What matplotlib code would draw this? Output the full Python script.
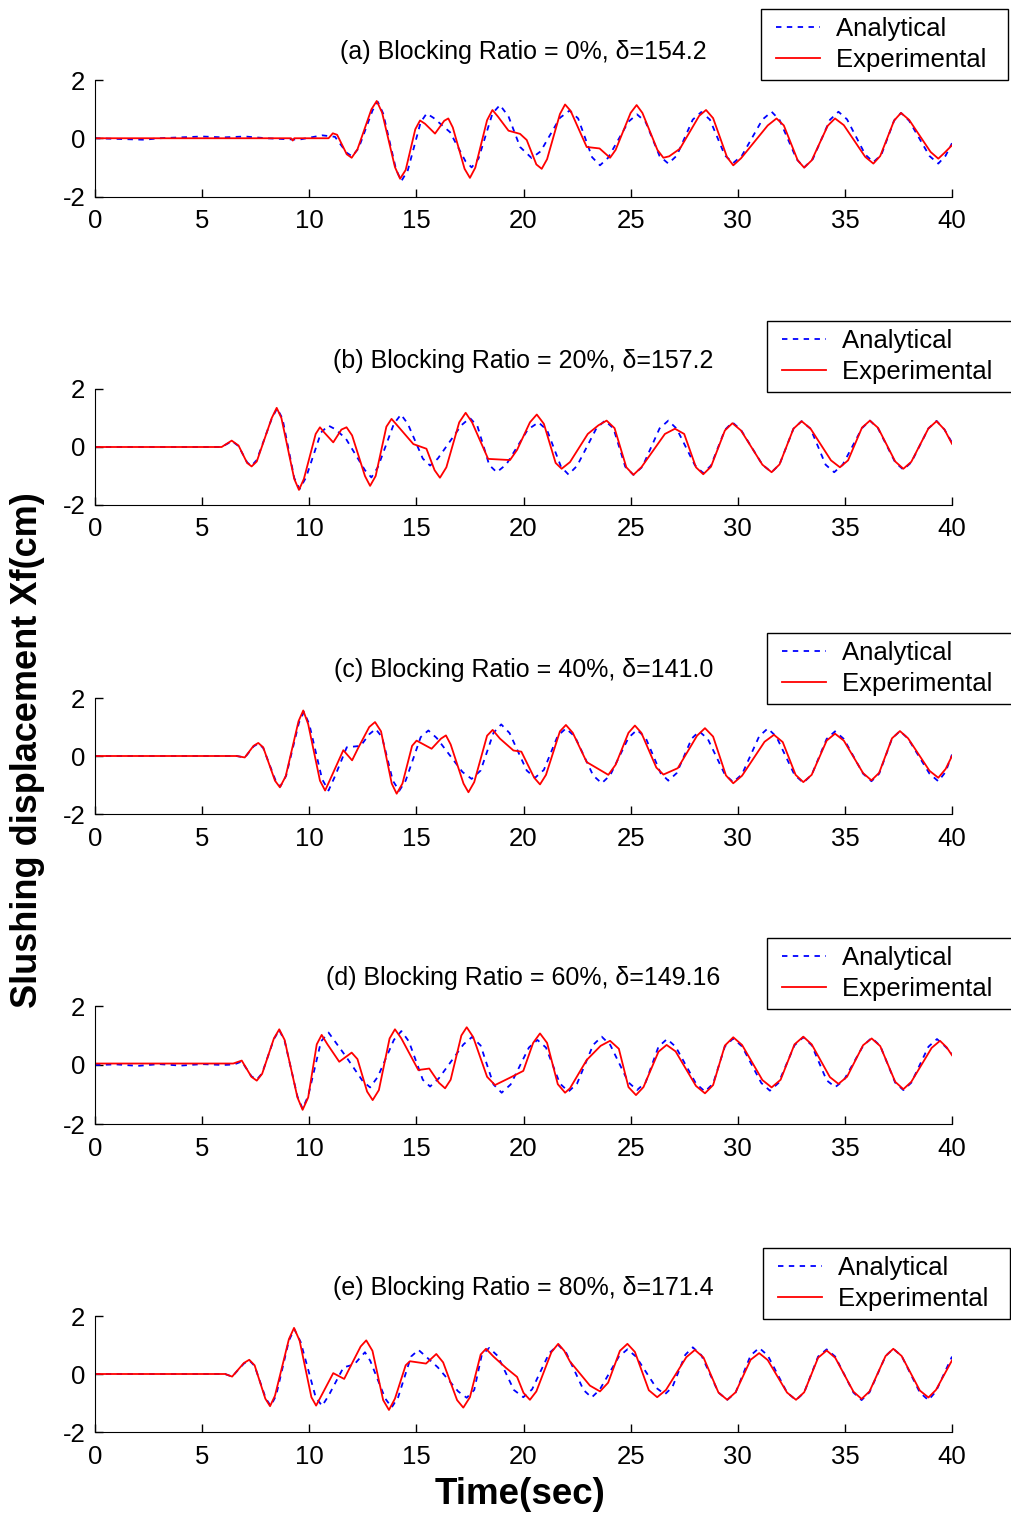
import matplotlib
matplotlib.use('Agg')
import matplotlib.pyplot as plt
from matplotlib.lines import Line2D
from matplotlib.legend_handler import HandlerLine2D

plt.rcParams['font.family'] = ['Liberation Sans', 'DejaVu Sans']
plt.rcParams['axes.unicode_minus'] = False

# Panel titles
titles = ['(a) Blocking Ratio = 0%, \u03b4=154.2',
          '(b) Blocking Ratio = 20%, \u03b4=157.2',
          '(c) Blocking Ratio = 40%, \u03b4=141.0',
          '(d) Blocking Ratio = 60%, \u03b4=149.16',
          '(e) Blocking Ratio = 80%, \u03b4=171.4']

# (time [s], Xf [cm])
# (a) 0%
exp_a = [(0, 0), (9.15, 0), (9.23, -0.08), (9.3, 0), (10.9, 0), (11.1, 0.17), (11.3, 0.12), (11.75, -0.55),
         (11.98, -0.67), (12.25, -0.38), (12.9, 0.99), (13.15, 1.28), (13.4, 0.88), (14.0, -0.99), (14.24, -1.39),
         (14.5, -1.09), (14.95, 0.31), (15.17, 0.61), (15.4, 0.5), (15.87, 0.16), (16.3, 0.6), (16.49, 0.68),
         (16.7, 0.37), (17.25, -1.05), (17.5, -1.36), (17.75, -1.01), (18.3, 0.62), (18.55, 0.97), (18.8, 0.75),
         (19.3, 0.26), (19.84, 0.15), (20.15, -0.06), (20.6, -0.9), (20.85, -1.05), (21.1, -0.72), (21.7, 0.83),
         (21.94, 1.16), (22.2, 0.94), (22.95, -0.3), (23.55, -0.35), (24.04, -0.67), (24.3, -0.4), (25.0, 0.87),
         (25.28, 1.14), (25.55, 0.87), (26.25, -0.4), (26.53, -0.67), (26.8, -0.62), (27.3, -0.36), (28.2, 0.77),
         (28.52, 0.97), (28.85, 0.69), (29.5, -0.65), (29.79, -0.93), (30.15, -0.69), (31.4, 0.44), (31.81, 0.68),
         (32.15, 0.44), (32.8, -0.76), (33.1, -1.01), (33.45, -0.76), (34.2, 0.43), (34.54, 0.68), (34.95, 0.45),
         (35.95, -0.64), (36.33, -0.87), (36.65, -0.61), (37.3, 0.61), (37.62, 0.87), (38.0, 0.63), (39.0, -0.47),
         (39.36, -0.7), (39.65, -0.5), (40, -0.24)]
ana_a = [(0, 0), (2.3, -0.05), (3, 0), (5, 0.06), (6, 0.03), (7, 0.06), (8, 0), (9.5, -0.05), (10.6, 0.1),
         (11.2, 0.05), (11.75, -0.5), (12.0, -0.62), (12.3, -0.35), (12.95, 0.95), (13.2, 1.25), (13.45, 0.85),
         (14.05, -1.07), (14.3, -1.47), (14.6, -1.1), (15.2, 0.55), (15.48, 0.85), (15.8, 0.7), (16.57, 0.21),
         (17.3, -0.8), (17.58, -1.0), (17.9, -0.7), (18.55, 0.85), (18.9, 1.14), (19.3, 0.75), (19.84, -0.3),
         (20.38, -0.68), (20.8, -0.45), (21.7, 0.7), (22.15, 0.95), (22.55, 0.68), (23.2, -0.65), (23.57, -0.93),
         (23.95, -0.67), (24.9, 0.57), (25.3, 0.82), (25.7, 0.56), (26.35, -0.61), (26.76, -0.87), (27.15, -0.6),
         (27.9, 0.64), (28.3, 0.9), (28.7, 0.64), (29.4, -0.59), (29.79, -0.85), (30.2, -0.59), (31.15, 0.64),
         (31.58, 0.91), (31.95, 0.63), (32.75, -0.72), (33.1, -1.0), (33.5, -0.72), (34.3, 0.63), (34.7, 0.91),
         (35.1, 0.65), (35.95, -0.56), (36.33, -0.82), (36.7, -0.57), (37.3, 0.61), (37.62, 0.87), (38.0, 0.6),
         (38.95, -0.61), (39.36, -0.87), (39.7, -0.6), (40, -0.17)]

# (b) 20%
exp_b = [(0, 0), (5.91, 0), (6.38, 0.22), (6.7, 0.05), (7.1, -0.55), (7.31, -0.67), (7.55, -0.5), (8.25, 1.0),
         (8.48, 1.35), (8.7, 1.0), (9.3, -1.1), (9.52, -1.48), (9.75, -1.1), (10.3, 0.45), (10.5, 0.68),
         (10.7, 0.5), (11.12, 0.16), (11.5, 0.6), (11.74, 0.68), (12.0, 0.4), (12.6, -1.0), (12.84, -1.34),
         (13.1, -1.0), (13.6, 0.7), (13.84, 0.97), (14.1, 0.75), (14.86, 0.1), (15.47, -0.06), (15.85, -0.8),
         (16.1, -1.06), (16.4, -0.7), (17.0, 0.85), (17.3, 1.18), (17.6, 0.85), (18.35, -0.41), (19.37, -0.45),
         (19.7, -0.1), (20.3, 0.85), (20.62, 1.12), (20.95, 0.8), (21.5, -0.55), (21.78, -0.75), (22.17, -0.52),
         (23.0, 0.45), (23.5, 0.75), (23.88, 0.91), (24.25, 0.65), (24.8, -0.7), (25.13, -0.96), (25.5, -0.7),
         (26.6, 0.45), (27.07, 0.63), (27.5, 0.45), (28.05, -0.7), (28.39, -0.94), (28.75, -0.68), (29.4, 0.57),
         (29.75, 0.82), (30.15, 0.57), (31.15, -0.61), (31.58, -0.87), (31.95, -0.6), (32.6, 0.63), (32.98, 0.89),
         (33.4, 0.63), (34.35, -0.46), (34.77, -0.7), (35.15, -0.46), (35.8, 0.67), (36.17, 0.91), (36.55, 0.66),
         (37.35, -0.5), (37.73, -0.75), (38.1, -0.51), (38.9, 0.64), (39.28, 0.89), (39.65, 0.6), (40, 0.11)]
ana_b = [(0, 0), (5.9, 0), (6.4, 0.2), (6.7, 0.03), (7.1, -0.53), (7.3, -0.65), (7.55, -0.45), (8.25, 0.98),
         (8.5, 1.33), (8.75, 0.98), (9.3, -1.07), (9.55, -1.45), (9.85, -1.05), (10.55, 0.5), (10.89, 0.74),
         (11.2, 0.62), (11.7, 0.3), (12.6, -0.8), (12.9, -1.05), (13.2, -0.7), (13.95, 0.8), (14.28, 1.12),
         (14.6, 0.8), (15.3, -0.4), (15.64, -0.64), (16.0, -0.4), (17.1, 0.75), (17.5, 1.0), (17.85, 0.72),
         (18.4, -0.62), (18.75, -0.87), (19.2, -0.6), (20.2, 0.6), (20.7, 0.85), (21.1, 0.58), (21.75, -0.68),
         (22.1, -0.95), (22.5, -0.65), (23.4, 0.64), (23.8, 0.91), (24.2, 0.64), (24.75, -0.68), (25.13, -0.96),
         (25.55, -0.68), (26.35, 0.64), (26.76, 0.91), (27.15, 0.63), (28.0, -0.63), (28.39, -0.9), (28.75, -0.64),
         (29.4, 0.59), (29.75, 0.85), (30.15, 0.59), (31.15, -0.61), (31.58, -0.87), (31.95, -0.6), (32.6, 0.63),
         (32.98, 0.89), (33.4, 0.63), (34.1, -0.61), (34.5, -0.87), (34.9, -0.61), (35.8, 0.65), (36.17, 0.91),
         (36.55, 0.64), (37.35, -0.53), (37.73, -0.78), (38.1, -0.53), (38.9, 0.64), (39.28, 0.9), (39.65, 0.6),
         (40, 0.15)]

# (c) 40%
exp_c = [(0, 0), (6.61, 0), (6.99, -0.05), (7.4, 0.35), (7.62, 0.45), (7.85, 0.3), (8.4, -0.85), (8.63, -1.08),
         (8.9, -0.7), (9.5, 1.2), (9.72, 1.57), (9.95, 1.1), (10.5, -0.85), (10.74, -1.19), (10.95, -0.85),
         (11.59, 0.2), (12.0, -0.15), (12.3, 0.3), (12.8, 1.0), (13.07, 1.17), (13.35, 0.85), (13.85, -0.95),
         (14.08, -1.3), (14.35, -0.95), (14.8, 0.35), (15.01, 0.53), (15.71, 0.25), (16.15, 0.6), (16.38, 0.71),
         (16.6, 0.4), (17.2, -0.95), (17.43, -1.25), (17.7, -0.9), (18.3, 0.7), (18.56, 0.9), (18.9, 0.6),
         (19.53, 0.19), (19.9, 0.15), (20.5, -0.75), (20.77, -0.98), (21.05, -0.65), (21.7, 0.85), (21.98, 1.07),
         (22.3, 0.8), (22.95, -0.21), (23.96, -0.65), (24.3, -0.3), (24.9, 0.8), (25.2, 1.05), (25.5, 0.8),
         (26.2, -0.4), (26.53, -0.64), (27.2, -0.42), (28.1, 0.7), (28.47, 0.96), (28.85, 0.67), (29.45, -0.67),
         (29.79, -0.94), (30.2, -0.68), (31.25, 0.49), (31.69, 0.73), (32.1, 0.48), (32.7, -0.65), (33.06, -0.9),
         (33.45, -0.65), (34.15, 0.53), (34.54, 0.77), (34.95, 0.53), (35.85, -0.59), (36.24, -0.84), (36.6, -0.58),
         (37.2, 0.61), (37.57, 0.86), (37.95, 0.61), (38.95, -0.51), (39.36, -0.75), (39.7, -0.45), (40, 0.0)]
ana_c = [(0, 0), (6.6, 0), (7.0, -0.05), (7.4, 0.33), (7.62, 0.43), (7.85, 0.28), (8.42, -0.83), (8.65, -1.05),
         (8.92, -0.68), (9.52, 1.15), (9.75, 1.52), (10.0, 1.1), (10.6, -0.8), (10.9, -1.19), (11.2, -0.7),
         (11.75, 0.3), (12.4, 0.35), (12.8, 0.75), (13.1, 0.93), (13.4, 0.65), (13.9, -0.85), (14.2, -1.2),
         (14.5, -0.85), (15.2, 0.65), (15.56, 0.88), (15.95, 0.62), (17.15, -0.55), (17.58, -0.79), (18.0, -0.5),
         (18.6, 0.8), (18.96, 1.09), (19.35, 0.79), (20.15, -0.5), (20.54, -0.75), (20.95, -0.48), (21.6, 0.7),
         (21.98, 0.95), (22.4, 0.67), (23.25, -0.67), (23.65, -0.94), (24.05, -0.66), (24.9, 0.63), (25.3, 0.9),
         (25.7, 0.63), (26.4, -0.59), (26.76, -0.85), (27.15, -0.59), (27.85, 0.6), (28.2, 0.85), (28.6, 0.59),
         (29.4, -0.64), (29.79, -0.9), (30.2, -0.63), (31.0, 0.68), (31.4, 0.95), (31.8, 0.67), (32.65, -0.65),
         (33.06, -0.92), (33.45, -0.65), (34.15, 0.59), (34.54, 0.85), (34.95, 0.59), (35.85, -0.61), (36.24, -0.87),
         (36.6, -0.61), (37.2, 0.6), (37.57, 0.86), (37.95, 0.6), (38.95, -0.61), (39.36, -0.87), (39.7, -0.55),
         (40, 0.05)]

# (d) 60%
exp_d = [(0, 0.05), (6.45, 0.05), (6.85, 0.15), (7.3, -0.4), (7.55, -0.53), (7.8, -0.3), (8.35, 0.9), (8.6, 1.21),
         (8.85, 0.85), (9.45, -1.1), (9.69, -1.52), (9.95, -1.1), (10.35, 0.7), (10.58, 1.02), (10.85, 0.7),
         (11.4, 0.11), (11.98, 0.42), (12.25, 0.2), (12.7, -0.9), (12.96, -1.19), (13.25, -0.85), (13.75, 0.9),
         (14.0, 1.21), (14.3, 0.9), (15.09, -0.17), (15.6, -0.12), (16.05, -0.6), (16.34, -0.79), (16.6, -0.5),
         (17.1, 1.0), (17.35, 1.28), (17.65, 0.95), (18.3, -0.4), (18.67, -0.68), (19.37, -0.43), (19.99, -0.2),
         (20.45, 0.75), (20.77, 1.07), (21.1, 0.75), (21.6, -0.65), (21.94, -0.94), (22.17, -0.79), (22.95, 0.17),
         (23.6, 0.65), (24.04, 0.82), (24.45, 0.55), (24.9, -0.75), (25.25, -1.02), (25.6, -0.75), (26.3, 0.45),
         (26.68, 0.68), (27.1, 0.46), (28.05, -0.71), (28.47, -0.96), (28.85, -0.68), (29.4, 0.66), (29.79, 0.94),
         (30.2, 0.68), (31.15, -0.51), (31.58, -0.76), (32.0, -0.5), (32.65, 0.7), (33.06, 0.96), (33.45, 0.7),
         (34.3, -0.41), (34.7, -0.64), (35.1, -0.4), (35.85, 0.67), (36.25, 0.9), (36.65, 0.64), (37.35, -0.57),
         (37.73, -0.82), (38.1, -0.57), (39.05, 0.58), (39.44, 0.82), (39.75, 0.6), (40, 0.33)]
ana_d = [(0, 0), (1, 0.02), (2, -0.03), (3, 0.03), (4, -0.02), (5, 0.03), (6, 0), (6.5, 0.02), (6.85, 0.12),
         (7.3, -0.38), (7.55, -0.5), (7.8, -0.28), (8.35, 0.88), (8.6, 1.18), (8.85, 0.82), (9.45, -1.07),
         (9.69, -1.48), (9.95, -1.05), (10.55, 0.8), (10.9, 1.1), (11.25, 0.75), (11.7, 0.3), (12.5, -0.55),
         (12.84, -0.76), (13.2, -0.4), (13.95, 0.85), (14.3, 1.15), (14.65, 0.8), (15.3, -0.5), (15.64, -0.73),
         (16.05, -0.45), (17.2, 0.7), (17.6, 0.95), (18.0, 0.66), (18.6, -0.66), (18.98, -0.94), (19.4, -0.66),
         (20.25, 0.59), (20.65, 0.85), (21.05, 0.59), (21.7, -0.63), (22.1, -0.9), (22.5, -0.63), (23.25, 0.68),
         (23.65, 0.96), (24.05, 0.68), (24.9, -0.59), (25.3, -0.85), (25.7, -0.59), (26.3, 0.62), (26.7, 0.88),
         (27.1, 0.62), (28.05, -0.63), (28.47, -0.9), (28.85, -0.63), (29.4, 0.63), (29.79, 0.9), (30.2, 0.63),
         (31.1, -0.61), (31.5, -0.87), (31.9, -0.61), (32.65, 0.67), (33.06, 0.94), (33.45, 0.67), (34.15, -0.52),
         (34.55, -0.75), (34.95, -0.52), (35.85, 0.65), (36.25, 0.92), (36.65, 0.65), (37.35, -0.6), (37.73, -0.85),
         (38.1, -0.6), (38.9, 0.62), (39.3, 0.88), (39.65, 0.65), (40, 0.4)]

# (e) 80%
exp_e = [(0, 0), (6.07, 0), (6.4, -0.09), (6.95, 0.38), (7.2, 0.49), (7.45, 0.3), (7.95, -0.85), (8.17, -1.11),
         (8.4, -0.75), (9.05, 1.2), (9.29, 1.59), (9.55, 1.15), (10.1, -0.8), (10.32, -1.09), (10.6, -0.7),
         (11.12, 0.03), (11.63, -0.17), (11.95, 0.3), (12.4, 0.95), (12.66, 1.16), (12.95, 0.8), (13.45, -0.9),
         (13.72, -1.24), (14.0, -0.85), (14.5, 0.3), (14.7, 0.44), (15.45, 0.36), (15.93, 0.69), (16.25, 0.4),
         (16.9, -0.9), (17.19, -1.16), (17.5, -0.8), (18.0, 0.67), (18.25, 0.87), (18.6, 0.6), (19.2, 0.2),
         (19.7, -0.1), (20.0, -0.65), (20.3, -0.89), (20.6, -0.6), (21.3, 0.75), (21.62, 1.04), (21.9, 0.8),
         (22.17, 0.43), (23.1, -0.4), (23.57, -0.6), (23.95, -0.3), (24.5, 0.8), (24.85, 1.04), (25.2, 0.76),
         (25.85, -0.56), (26.24, -0.8), (26.65, -0.55), (27.6, 0.58), (28.0, 0.83), (28.4, 0.57), (29.1, -0.64),
         (29.51, -0.89), (29.9, -0.63), (30.6, 0.49), (31.0, 0.72), (31.4, 0.48), (32.3, -0.64), (32.72, -0.89),
         (33.1, -0.63), (33.75, 0.56), (34.15, 0.81), (34.55, 0.56), (35.4, -0.61), (35.78, -0.86), (36.15, -0.6),
         (36.9, 0.62), (37.26, 0.87), (37.65, 0.62), (38.5, -0.57), (38.9, -0.81), (39.25, -0.55), (40, 0.47)]
ana_e = [(0, 0), (6.07, 0), (6.4, -0.09), (6.95, 0.36), (7.2, 0.47), (7.45, 0.28), (7.97, -0.84), (8.2, -1.1),
         (8.45, -0.75), (9.05, 1.15), (9.3, 1.55), (9.6, 1.1), (10.3, -0.8), (10.6, -1.1), (10.9, -0.75),
         (11.6, 0.23), (12.1, 0.33), (12.6, 0.75), (12.85, 0.45), (13.55, -0.85), (13.85, -1.15), (14.15, -0.8),
         (14.75, 0.6), (15.1, 0.83), (15.45, 0.6), (16.0, 0.23), (16.95, -0.6), (17.35, -0.82), (17.7, -0.55),
         (18.05, 0.65), (18.4, 0.9), (18.8, 0.62), (19.55, -0.55), (19.99, -0.8), (20.4, -0.53), (21.2, 0.72),
         (21.62, 1.0), (22.0, 0.72), (22.8, -0.55), (23.18, -0.81), (23.55, -0.55), (24.45, 0.6), (24.85, 0.85),
         (25.25, 0.6), (26.2, -0.48), (26.6, -0.7), (26.95, -0.45), (27.55, 0.66), (27.9, 0.92), (28.3, 0.65),
         (29.1, -0.64), (29.51, -0.89), (29.9, -0.64), (30.6, 0.64), (31.0, 0.9), (31.4, 0.64), (32.3, -0.64),
         (32.72, -0.9), (33.1, -0.64), (33.75, 0.6), (34.15, 0.85), (34.55, 0.6), (35.4, -0.64), (35.78, -0.9),
         (36.15, -0.63), (36.9, 0.62), (37.26, 0.87), (37.65, 0.62), (38.5, -0.64), (38.9, -0.9), (39.25, -0.6),
         (40, 0.6)]

panels = [(ana_a, exp_a), (ana_b, exp_b), (ana_c, exp_c), (ana_d, exp_d), (ana_e, exp_e)]

W, H = 1011, 1519
fig = plt.figure(figsize=(W / 100, H / 100), dpi=100)

# axes boxes in pixels (top, bottom) and legend top-right corners
ax_rows = [(80, 196.5), (389, 505), (698, 814), (1006, 1124), (1316, 1432)]
leg_corner = [(1008, 9), (1014, 321), (1014, 633), (1014, 938), (1010, 1248)]

for i, (ana, exp) in enumerate(panels):
    top, bot = ax_rows[i]
    ax = fig.add_axes([95 / W, 1 - bot / H, (952 - 95) / W, (bot - top) / H])
    ta, xa = zip(*ana)
    te, xe = zip(*exp)
    ax.plot(ta, xa, color='#0000ff', lw=1.3, ls=(0, (3, 3)), label='Analytical')
    ax.plot(te, xe, color='#ff0000', lw=1.3, label='Experimental')
    ax.set_xlim(0, 40)
    ax.set_ylim(-2, 2)
    ax.set_xticks(range(0, 41, 5))
    ax.set_yticks([-2, 0, 2])
    ax.spines['top'].set_visible(False)
    ax.spines['right'].set_visible(False)
    ax.tick_params(direction='in', length=6, width=1, labelsize=18.5)
    ax.tick_params(axis='x', pad=9)
    ax.tick_params(axis='y', pad=7)
    ax.set_title(titles[i], fontsize=18, pad=15)
    lx, ly = leg_corner[i]
    handles, labels = ax.get_legend_handles_labels()
    labels = [lab + '  ' for lab in labels]
    leg = ax.legend(handles, labels, loc='upper right', bbox_to_anchor=(lx / W, 1 - ly / H),
                    bbox_transform=fig.transFigure, fontsize=18.5, fancybox=False,
                    framealpha=1, edgecolor='black', handlelength=2.0,
                    borderpad=0.3, labelspacing=0.3, handletextpad=0.6, borderaxespad=0,
                    handler_map={Line2D: HandlerLine2D(xpad=0.28)})
    leg.get_frame().set_linewidth(1.0)

fig.text(28 / W, 1 - 750 / H, 'Slushing displacement Xf(cm)', rotation=90,
         fontsize=26, fontweight='bold', ha='center', va='center')
fig.text(520 / W, 1 - 1495 / H, 'Time(sec)', fontsize=26.5, fontweight='bold',
         ha='center', va='center')

fig.savefig('out.png', dpi=100)
